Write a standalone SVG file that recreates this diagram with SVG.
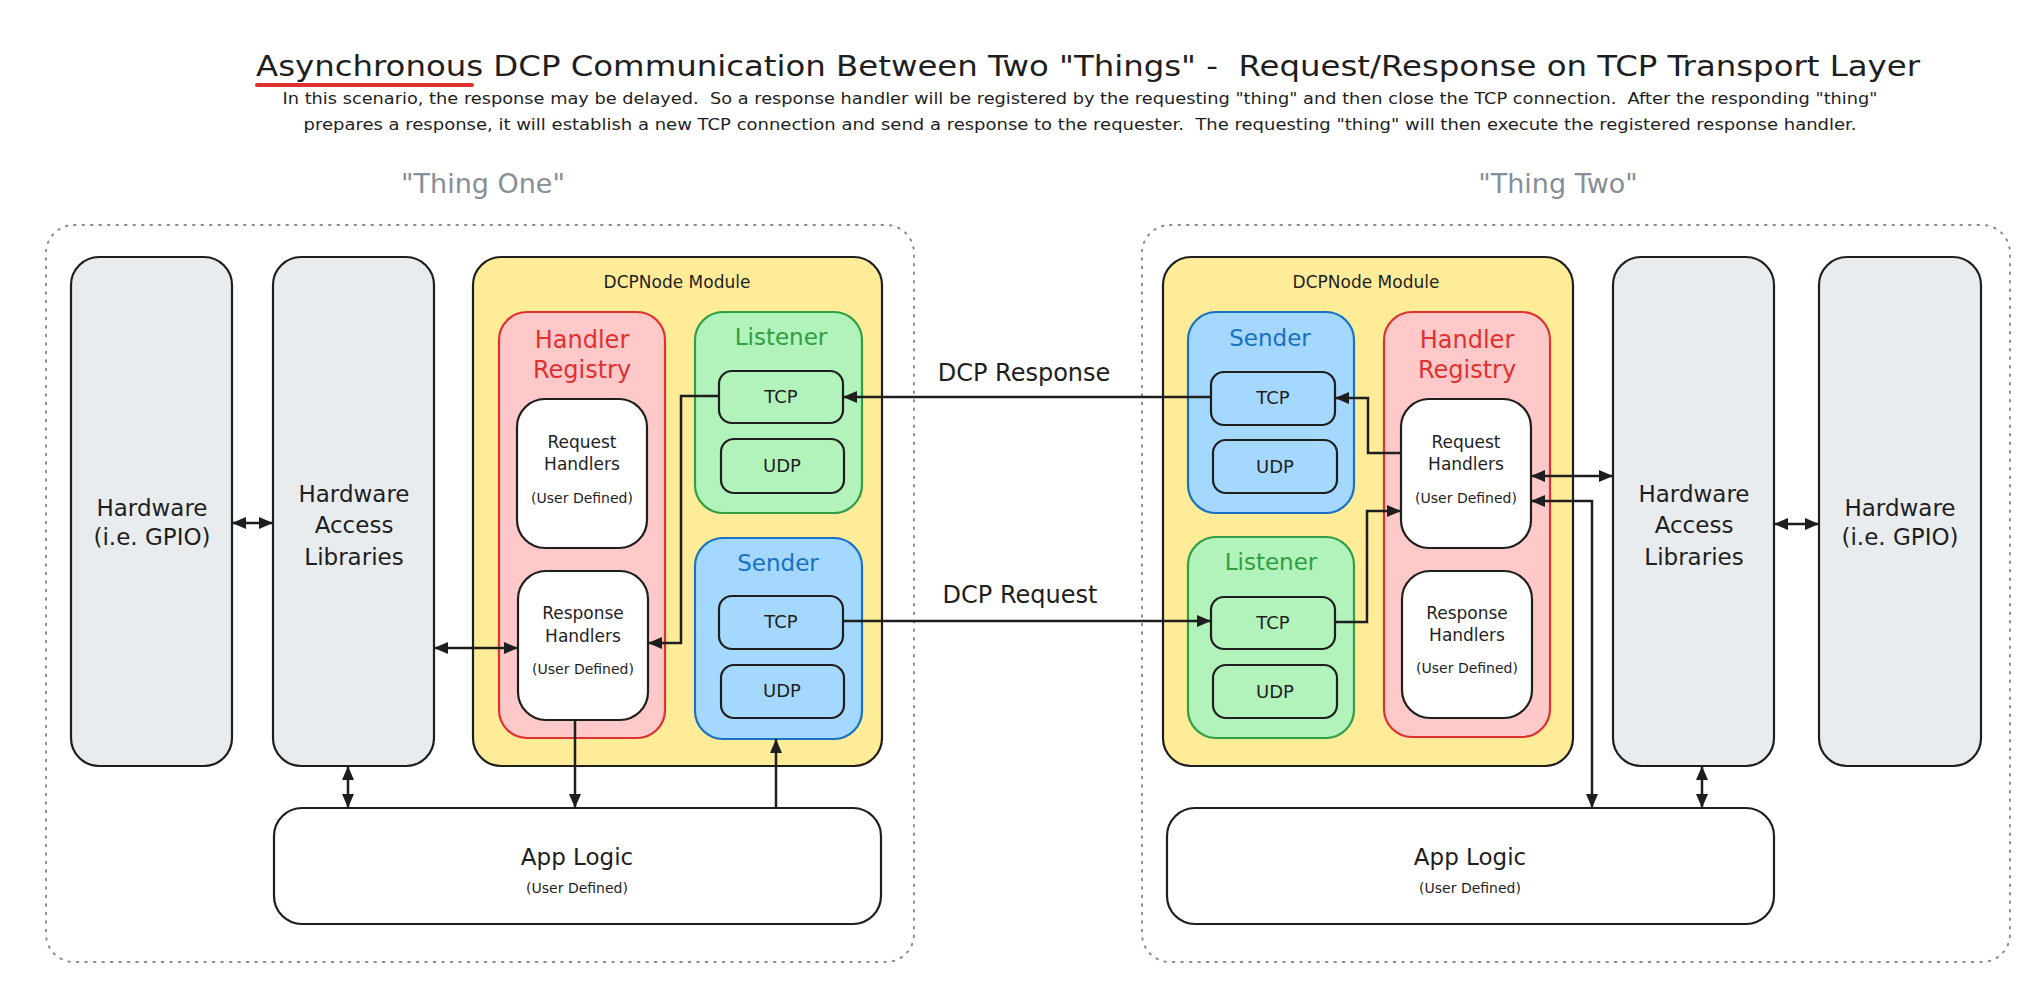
<svg xmlns="http://www.w3.org/2000/svg" width="2042" height="1000" viewBox="0 0 2042 1000">
<style>
text{font-family:"DejaVu Sans","Liberation Sans",sans-serif;fill:#1e1e1e;text-anchor:middle}
.b{stroke:#1e1e1e;stroke-width:2.2}
.gray{fill:#e9ecef}
.white{fill:#ffffff}
.yellow{fill:#ffec99}
.red{fill:#ffc9c9;stroke:#e03131;stroke-width:2.2}
.green{fill:#b2f2bb;stroke:#2f9e44;stroke-width:2.2}
.blue{fill:#a5d8ff;stroke:#1971c2;stroke-width:2.2}
.gfill{fill:#b2f2bb}
.bfill{fill:#a5d8ff}
.cont{fill:none;stroke:#868e96;stroke-width:2;stroke-dasharray:1.5 7;stroke-linecap:round}
.conn{fill:none;stroke:#1e1e1e;stroke-width:2.5}
.lbl{font-size:23px}
.reg{font-size:24px;fill:#e03131}
.lst{font-size:23px;fill:#2f9e44}
.snd{font-size:23px;fill:#1971c2}
.mod{font-size:17px}
.prot{font-size:18px}
.hnd{font-size:17px}
.ud{font-size:14px}
.thing{font-size:27px;fill:#868e96}
.pre{white-space:pre}
</style>
<defs>
<marker id="ah" viewBox="0 0 14 12" refX="14" refY="6" markerWidth="14" markerHeight="12" markerUnits="userSpaceOnUse" orient="auto-start-reverse">
<path d="M0,0 L14,6 L0,12 z" fill="#1e1e1e"/>
</marker>
</defs>

<g id="title">
<text class="pre" x="1088" y="76" font-size="29" textLength="1664" lengthAdjust="spacingAndGlyphs">Asynchronous DCP Communication Between Two "Things" -  Request/Response on TCP Transport Layer</text>
<line x1="257" y1="85" x2="472" y2="85" stroke="#e03131" stroke-width="4" stroke-linecap="round"/>
<text class="pre" x="1080" y="104" font-size="15" textLength="1595" lengthAdjust="spacingAndGlyphs">In this scenario, the response may be delayed.  So a response handler will be registered by the requesting "thing" and then close the TCP connection.  After the responding "thing"</text>
<text class="pre" x="1080" y="130" font-size="15" textLength="1553" lengthAdjust="spacingAndGlyphs">prepares a response, it will establish a new TCP connection and send a response to the requester.  The requesting "thing" will then execute the registered response handler.</text>
</g>

<g id="thing-one">
<text class="thing" x="483" y="193">"Thing One"</text>
<rect class="cont" x="46" y="225" width="868" height="737" rx="28"/>
</g>
<g id="thing-two">
<text class="thing" x="1558" y="193">"Thing Two"</text>
<rect class="cont" x="1142" y="225" width="868" height="737" rx="28"/>
</g>

<!-- Thing One nodes -->
<g id="t1-hardware">
<rect class="b gray" x="71" y="257" width="161" height="509" rx="28"/>
<text class="lbl" x="152" y="516">Hardware</text>
<text class="lbl" x="152" y="545">(i.e. GPIO)</text>
</g>
<g id="t1-hal">
<rect class="b gray" x="273" y="257" width="161" height="509" rx="28"/>
<text class="lbl" x="354" y="502">Hardware</text>
<text class="lbl" x="354" y="533">Access</text>
<text class="lbl" x="354" y="565">Libraries</text>
</g>
<g id="t1-dcpnode">
<rect class="b yellow" x="473" y="257" width="409" height="509" rx="28"/>
<text class="mod" x="677" y="288">DCPNode Module</text>
</g>
<g id="t1-registry">
<rect class="red" x="499" y="312" width="166" height="426" rx="28"/>
<text class="reg" x="582" y="348">Handler</text>
<text class="reg" x="582" y="378">Registry</text>
</g>
<g id="t1-request-handlers">
<rect class="b white" x="517" y="399" width="130" height="149" rx="28"/>
<text class="hnd" x="582" y="448">Request</text>
<text class="hnd" x="582" y="470">Handlers</text>
<text class="ud" x="582" y="503">(User Defined)</text>
</g>
<g id="t1-response-handlers">
<rect class="b white" x="518" y="571" width="130" height="149" rx="28"/>
<text class="hnd" x="583" y="619">Response</text>
<text class="hnd" x="583" y="642">Handlers</text>
<text class="ud" x="583" y="674">(User Defined)</text>
</g>
<g id="t1-listener">
<rect class="green" x="695" y="312" width="167" height="201" rx="28"/>
<text class="lst" x="781" y="345">Listener</text>
</g>
<g id="t1-listener-tcp">
<rect class="b gfill" x="719" y="371" width="124" height="52" rx="13"/>
<text class="prot" x="781" y="403">TCP</text>
</g>
<g id="t1-listener-udp">
<rect class="b gfill" x="721" y="439" width="123" height="54" rx="13"/>
<text class="prot" x="782" y="472">UDP</text>
</g>
<g id="t1-sender">
<rect class="blue" x="695" y="538" width="167" height="201" rx="28"/>
<text class="snd" x="778" y="571">Sender</text>
</g>
<g id="t1-sender-tcp">
<rect class="b bfill" x="719" y="596" width="124" height="53" rx="13"/>
<text class="prot" x="781" y="628">TCP</text>
</g>
<g id="t1-sender-udp">
<rect class="b bfill" x="721" y="665" width="123" height="53" rx="13"/>
<text class="prot" x="782" y="697">UDP</text>
</g>
<g id="t1-app-logic">
<rect class="b white" x="274" y="808" width="607" height="116" rx="28"/>
<text class="lbl" x="577" y="865">App Logic</text>
<text class="ud" x="577" y="893">(User Defined)</text>
</g>

<!-- Thing Two nodes -->
<g id="t2-dcpnode">
<rect class="b yellow" x="1163" y="257" width="410" height="509" rx="28"/>
<text class="mod" x="1366" y="288">DCPNode Module</text>
</g>
<g id="t2-sender">
<rect class="blue" x="1188" y="312" width="166" height="201" rx="28"/>
<text class="snd" x="1270" y="346">Sender</text>
</g>
<g id="t2-sender-tcp">
<rect class="b bfill" x="1211" y="372" width="124" height="53" rx="13"/>
<text class="prot" x="1273" y="404">TCP</text>
</g>
<g id="t2-sender-udp">
<rect class="b bfill" x="1213" y="440" width="124" height="53" rx="13"/>
<text class="prot" x="1275" y="473">UDP</text>
</g>
<g id="t2-listener">
<rect class="green" x="1188" y="537" width="166" height="201" rx="28"/>
<text class="lst" x="1271" y="570">Listener</text>
</g>
<g id="t2-listener-tcp">
<rect class="b gfill" x="1211" y="597" width="124" height="52" rx="13"/>
<text class="prot" x="1273" y="629">TCP</text>
</g>
<g id="t2-listener-udp">
<rect class="b gfill" x="1213" y="665" width="124" height="53" rx="13"/>
<text class="prot" x="1275" y="698">UDP</text>
</g>
<g id="t2-registry">
<rect class="red" x="1384" y="312" width="166" height="425" rx="28"/>
<text class="reg" x="1467" y="348">Handler</text>
<text class="reg" x="1467" y="378">Registry</text>
</g>
<g id="t2-request-handlers">
<rect class="b white" x="1401" y="399" width="130" height="149" rx="28"/>
<text class="hnd" x="1466" y="448">Request</text>
<text class="hnd" x="1466" y="470">Handlers</text>
<text class="ud" x="1466" y="503">(User Defined)</text>
</g>
<g id="t2-response-handlers">
<rect class="b white" x="1402" y="571" width="130" height="147" rx="28"/>
<text class="hnd" x="1467" y="619">Response</text>
<text class="hnd" x="1467" y="641">Handlers</text>
<text class="ud" x="1467" y="673">(User Defined)</text>
</g>
<g id="t2-hal">
<rect class="b gray" x="1613" y="257" width="161" height="509" rx="28"/>
<text class="lbl" x="1694" y="502">Hardware</text>
<text class="lbl" x="1694" y="533">Access</text>
<text class="lbl" x="1694" y="565">Libraries</text>
</g>
<g id="t2-hardware">
<rect class="b gray" x="1819" y="257" width="162" height="509" rx="28"/>
<text class="lbl" x="1900" y="516">Hardware</text>
<text class="lbl" x="1900" y="545">(i.e. GPIO)</text>
</g>
<g id="t2-app-logic">
<rect class="b white" x="1167" y="808" width="607" height="116" rx="28"/>
<text class="lbl" x="1470" y="865">App Logic</text>
<text class="ud" x="1470" y="893">(User Defined)</text>
</g>

<g id="connectors">
<path class="conn" d="M232,523 H273" marker-start="url(#ah)" marker-end="url(#ah)"/>
<path class="conn" d="M434,648 H518" marker-start="url(#ah)" marker-end="url(#ah)"/>
<path class="conn" d="M348,766 V808" marker-start="url(#ah)" marker-end="url(#ah)"/>
<path class="conn" d="M575,720 V808" marker-end="url(#ah)"/>
<path class="conn" d="M776,808 V739" marker-end="url(#ah)"/>
<path class="conn" d="M719,396 H681 V643 H648" marker-end="url(#ah)"/>
<path class="conn" d="M1211,397 H843" marker-end="url(#ah)"/>
<text x="1024" y="381" font-size="24">DCP Response</text>
<path class="conn" d="M843,621 H1211" marker-end="url(#ah)"/>
<text x="1020" y="603" font-size="24">DCP Request</text>
<path class="conn" d="M1401,453 H1368 V398 H1335" marker-end="url(#ah)"/>
<path class="conn" d="M1335,622 H1367 V511 H1401" marker-end="url(#ah)"/>
<path class="conn" d="M1531,476 H1613" marker-start="url(#ah)" marker-end="url(#ah)"/>
<path class="conn" d="M1531,501 H1592 V808" marker-start="url(#ah)" marker-end="url(#ah)"/>
<path class="conn" d="M1702,766 V808" marker-start="url(#ah)" marker-end="url(#ah)"/>
<path class="conn" d="M1774,524 H1819" marker-start="url(#ah)" marker-end="url(#ah)"/>
</g>
</svg>
